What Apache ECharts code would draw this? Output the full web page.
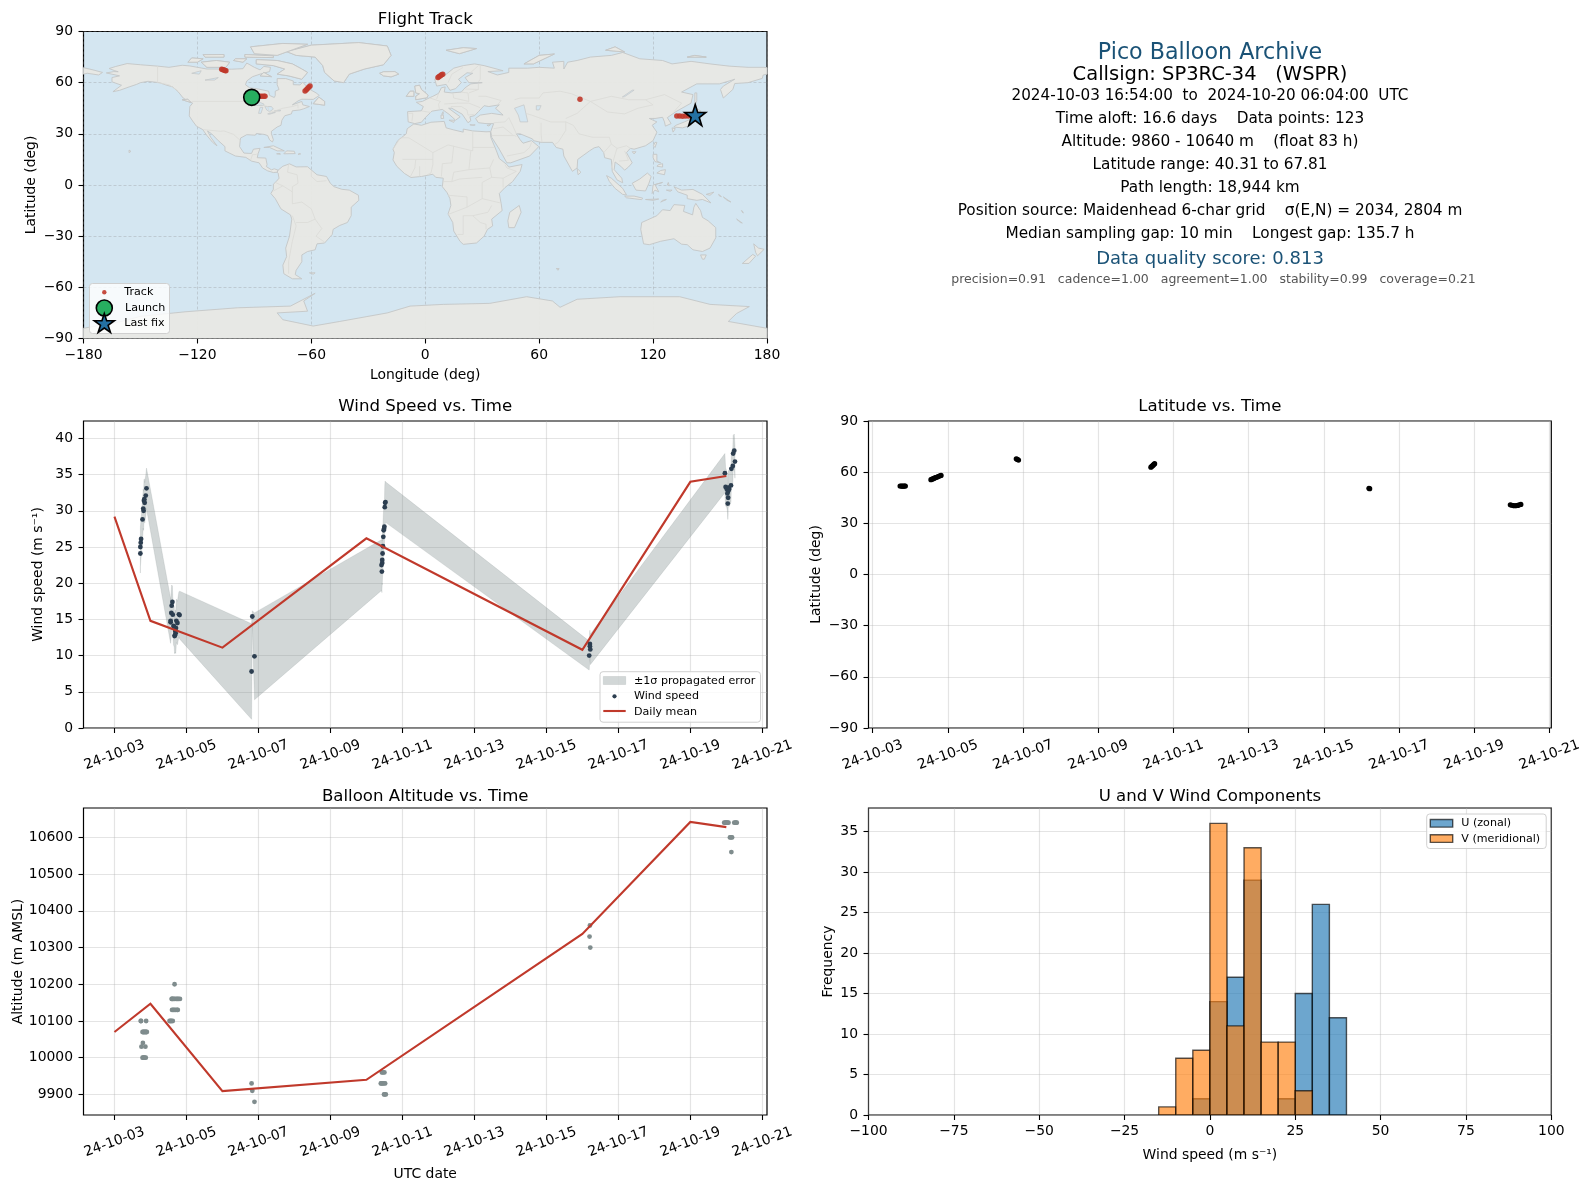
<!DOCTYPE html>
<html><head><meta charset="utf-8">
<style>html,body{margin:0;padding:0;background:#fff}#c{width:1589px;height:1189px}</style>
<script src="https://cdn.jsdelivr.net/npm/echarts@6/dist/echarts.min.js"></script>
</head><body><div id="c"></div>
<script>
const dayTicks=[3,5,7,9,11,13,15,17,19,21];
const dayTickLabels=['24-10-03','24-10-05','24-10-07','24-10-09','24-10-11','24-10-13','24-10-15','24-10-17','24-10-19','24-10-21'];
const windTicks=[0,5,10,15,20,25,30,35,40];
const altTicks=[9900,10000,10100,10200,10300,10400,10500,10600];
const freqTicks=[0,5,10,15,20,25,30,35];

const windDay=[3.72,3.72,3.73,3.74,3.78,3.80,3.81,3.82,3.83,3.84,3.87,3.89,
 4.56,4.56,4.58,4.59,4.61,4.62,4.64,4.66,4.67,4.68,4.69,4.70,4.71,4.72,4.75,4.79,4.81,
 6.81,6.83,6.89,
 10.42,10.43,10.44,10.44,10.45,10.46,10.47,10.48,10.49,10.50,10.51,10.52,10.53,
 16.19,16.21,16.21,16.22,
 19.96,19.98,20.01,20.03,20.04,20.05,20.05,20.06,20.08,20.13,20.14,20.18,20.19,20.22,20.24];
const windSpeed=[24.1,25.0,25.6,26.1,28.8,30.3,30.0,31.4,31.6,31.1,32.1,33.1,
 14.8,14.6,15.9,16.9,17.4,15.65,14.1,14.0,12.7,12.8,13.4,13.1,13.8,14.8,14.5,15.7,15.6,
 7.8,15.4,9.9,
 22.5,21.6,23.2,22.8,24.1,25.1,26.4,27.3,27.5,27.8,30.5,31.1,31.2,
 10.0,11.6,11.3,10.85,
 35.2,33.3,33.0,32.4,31.0,31.8,32.7,33.2,33.0,33.5,35.8,36.2,37.9,38.3,36.8];
const windSigma=[2.7,2.7,2.7,2.6,2.7,2.7,2.7,2.8,2.8,2.8,2.8,2.8,
 3.1,2.9,3.2,2.85,2.2,2.5,2.6,2.8,2.4,2.5,2.9,2.8,3.0,3.0,3.0,3.1,3.3,
 6.6,0.8,6.0,
 3.5,2.9,3.2,3.0,3.0,3.0,3.0,2.9,2.9,2.9,3.0,3.0,2.8,
 2.0,1.9,2.1,2.1,
 2.7,2.6,2.5,2.4,2.2,2.3,2.4,2.4,2.4,2.3,2.4,2.4,2.5,2.3,2.3];
const windMeanDay=[3,4,6,10,16,19,20];
const windMean=[29.2,14.8,11.1,26.2,10.8,34.0,34.8];

const altDay=[3.73,3.74,3.88,3.78,3.80,3.82,3.84,3.86,3.88,3.90,3.79,3.75,3.86,3.78,3.80,3.82,3.84,3.87,
 4.67,4.59,4.60,4.62,4.65,4.68,4.72,4.75,4.78,4.82,4.60,4.63,4.66,4.70,4.74,4.76,4.53,4.56,4.58,4.62,
 6.81,6.83,6.89,
 10.43,10.46,10.50,10.40,10.42,10.45,10.48,10.52,10.49,10.51,10.54,
 16.21,16.20,16.22,
 19.94,19.97,19.99,20.01,20.03,20.06,20.22,20.25,20.27,20.29,20.10,20.13,20.16,20.14];
const altValue=[10100,10100,10100,10070,10070,10070,10070,10070,10070,10070,10040,10030,10030,10000,10000,10000,10000,10000,
 10200,10160,10160,10160,10160,10160,10160,10160,10160,10160,10130,10130,10130,10130,10130,10130,10100,10100,10100,10100,
 9930,9910,9880,
 9960,9960,9960,9930,9930,9930,9930,9930,9900,9900,9900,
 10360,10330,10300,
 10640,10640,10640,10640,10640,10640,10640,10640,10640,10640,10600,10600,10600,10560];
const altMeanDay=[3,4,6,10,16,19,20];
const altMean=[10070,10147,9909,9940,10337,10642,10628];

const latDay=[3.73,3.76,3.79,3.82,3.85,3.87,
 4.55,4.58,4.61,4.64,4.67,4.70,4.73,4.76,4.79,4.82,
 6.82,6.85,6.88,
 10.40,10.42,10.44,10.46,10.48,10.50,
 16.20,16.22,
 19.96,20.00,20.04,20.08,20.12,20.16,20.20,20.24];
const latValue=[51.9,51.9,51.8,51.8,51.9,51.9,
 55.6,55.9,56.2,56.5,56.8,57.0,57.3,57.6,57.9,58.1,
 67.8,67.5,67.1,
 62.9,63.3,63.7,64.1,64.6,65.0,
 50.5,50.3,
 40.9,40.6,40.4,40.3,40.4,40.5,40.9,41.1];

const trackLon=[-91.4,-89,-87,-86,-85,-84.4,-63.3,-62.6,-62,-61.4,-60.7,-107.2,-106.6,-106,-105.4,-105,6.7,7.3,8,8.6,9.2,81.5,132.5,134,135.5,137,138.5,140,141,142.2];
const trackLat=[51.4,52,52,52,52,52,55.1,55.9,56.6,57.3,58,67.8,67.6,67.4,67.2,67,63.1,63.6,64.1,64.6,65,50.3,40.4,40.4,40.3,40.4,40.5,40.6,40.8,41];
const launchPoint=[-91.4,51.4];
const lastFixPoint=[142.2,41];

const histBinStart=[-15,-10,-5,0,5,10,15,20,25,30,35];
const histU=[0,0,2,14,17,29,0,2,15,26,12];
const histV=[1,7,8,36,11,33,9,9,3,0,0];

const infoLines=[
 ['Pico Balloon Archive',53,22.2,'#1a5276',1210],
 ['Callsign: SP3RC-34   (WSPR)',75.3,19.5,'#000',1210],
 ['2024-10-03 16:54:00  to  2024-10-20 06:04:00  UTC',96.3,15.2,'#000',1210],
 ['Time aloft: 16.6 days    Data points: 123',119.5,15.3,'#000',1210],
 ['Altitude: 9860 - 10640 m    (float 83 h)',142.5,15.3,'#000',1210],
 ['Latitude range: 40.31 to 67.81',165.5,15.3,'#000',1210],
 ['Path length: 18,944 km',188.2,15.3,'#000',1210],
 ['Position source: Maidenhead 6-char grid    σ(E,N) = 2034, 2804 m',211.5,15.3,'#000',1210],
 ['Median sampling gap: 10 min    Longest gap: 135.7 h',234.5,15.3,'#000',1210],
 ['Data quality score: 0.813',259,18,'#1a5276',1210],
 ['precision=0.91   cadence=1.00   agreement=1.00   stability=0.99   coverage=0.21',279.5,12.5,'#555',1213.5]
];

const mainlandPolygons=[
 [[-168,65.7],[-164,66.5],[-161.7,66.4],[-163.5,67],[-166.5,68.3],[-163,69.5],[-157,71.2],[-150,70.5],[-141,69.7],[-135,69],[-128,70.2],[-124,69.8],[-115,68],[-108,68],[-102,67.9],[-96,68.2],[-94,71.5],[-90,69],[-87,67.5],[-85,69.5],[-81.5,69],[-82,66.5],[-87,65],[-91,63.5],[-94,61],[-94.7,58.8],[-92.5,57],[-88,56.3],[-82.5,55],[-82,52.5],[-79.5,51.3],[-79,52.5],[-79,55],[-77,56],[-78,58.8],[-78,62.4],[-73.5,62.4],[-69.5,61],[-69.5,58.8],[-66,58.7],[-64.5,60.3],[-61.5,56.5],[-57.5,54],[-55.8,52.5],[-59,50.2],[-65,50.3],[-67,49.3],[-70,47],[-65,49],[-64.5,47],[-61,46],[-64,44.7],[-66,44],[-70,43.5],[-70.5,41.7],[-74,40.6],[-75.5,38],[-76,35],[-78,34],[-81,31.5],[-81,30],[-80,26.5],[-80.5,25.2],[-82,26.5],[-83,29],[-85,29.7],[-89,30.2],[-89.5,29.2],[-94,29.5],[-97.3,27.5],[-97.8,22.5],[-95.5,18.7],[-91.5,18.5],[-90.5,21],[-87,21.5],[-88,18.5],[-88.5,16],[-84,15.8],[-83.3,12],[-83.7,10.8],[-81,8.9],[-79.5,9.5],[-77.5,8.7],[-78,7.5],[-80,7.3],[-83,8.3],[-85.7,10],[-87.5,13],[-91.5,14],[-94.5,16.2],[-100,17],[-105.5,20],[-105.5,22.5],[-109,26],[-112.5,30],[-114.7,31.7],[-113,28],[-109.7,23],[-112,25],[-115,29],[-117.2,32.5],[-120.5,34.5],[-122.5,37.5],[-124.3,40.5],[-124,46],[-122.5,48],[-124.5,49],[-127.5,51],[-130,54.5],[-133,57.5],[-137,58.8],[-140,60],[-146,60.8],[-150,60],[-152,59],[-156,57.5],[-161,55.5],[-164.5,54.7],[-160,58.5],[-165,60.5],[-165,63],[-161,64]],
 [[-77.5,8.7],[-75,11],[-71.5,12.4],[-68,10.6],[-62,10.7],[-57,6],[-52,5],[-50,1],[-48,-1],[-44,-2.5],[-40,-3],[-35.2,-6],[-35,-9],[-39,-13],[-39,-18],[-41,-22],[-45,-23.7],[-48.5,-26],[-49,-29],[-53,-34],[-57,-34.5],[-58,-38],[-62,-39],[-65,-41],[-65,-45],[-68,-50],[-68.5,-52.5],[-65,-55],[-70,-55],[-74.5,-52],[-75,-47],[-73,-42],[-73.5,-37],[-71.5,-30],[-70.3,-20],[-71,-17.5],[-76,-14],[-79,-8],[-81.3,-5],[-80,-2.5],[-80,0.5],[-78.5,2],[-77,4],[-77.5,7],[-78,7.5]],
 [[-6,35.8],[-2,35],[3,36.8],[10,37.3],[11,33.5],[15,32.3],[20,31],[20,32.8],[25,31.7],[32,31.2],[34.3,31.3],[34.5,28],[36,24],[37.5,20],[39,15.5],[43,12],[44,10.5],[51,12],[50,8],[46,2],[42,-1.5],[39,-5],[40,-11],[40.5,-15],[35,-20],[35.5,-24],[32.8,-26],[31,-30],[27,-34],[20,-34.8],[18.3,-33],[15,-27],[14.5,-22],[12,-17],[13.5,-12],[13,-8],[11.5,-4.5],[9,-1],[9.5,4],[5.5,4.5],[4,6.3],[-2,5],[-7.5,4.4],[-11,6.8],[-15,11],[-17,14.7],[-16.3,19],[-17,21],[-14.5,26],[-10,30],[-9.5,33]],
 [[-9,37],[-9.3,43],[-2,43.5],[-1,46],[-4.7,48.5],[-1.5,49],[2,51],[4,52],[7,53.7],[8.5,57],[10.5,57.5],[10,54.5],[14,54],[19,54.5],[21,57],[24,59.3],[30,60],[23,60],[21,63],[25,65.5],[22,65.8],[17.5,62],[19,60],[16,56.5],[13,55.5],[11,59],[6,58],[5,62],[10,64],[15,68.5],[20,70],[26,71],[31,70],[41,67],[33,66.5],[38,64.5],[44,66],[44,68.5],[54,68.5],[60,69],[68,68.5],[67,72],[73,72.5],[73,68],[75,72],[80,73],[87,75],[98,76],[104,77.7],[113,74],[125,73],[130,71],[140,72.5],[150,71],[160,69.7],[170,69],[178,69],[180,68.8],[180,65],[178,64.5],[177.5,62.5],[170,60],[163,59.5],[162,56],[157,51],[155.5,56],[157,58],[163,62],[155,59.3],[143,59.3],[135,54.5],[141,53],[140,48],[132,43],[127.5,39.5],[129.5,36],[126.5,34.5],[126,37],[125,39.7],[121,39],[118,39],[122,37],[119.5,35],[122,31],[120,26],[116,23],[110,21],[108,21.5],[106,19],[109,13],[107,10.5],[105,8.7],[103,11],[100,13.5],[99.5,9],[103.5,4],[104,1.3],[101,3],[98.5,8],[98,15],[94.5,16],[94,19],[91.5,22.5],[89,21.8],[86.5,20],[80.3,15],[80,10],[77.5,8],[73,17],[72.5,21],[69,22],[67,25],[61,25],[57,26],[56.5,27],[50,30],[48,30],[50,26.5],[51.5,24.5],[56,26],[59.8,22.5],[55,17],[45,13],[43,13],[39,21],[35,28],[34.5,31.3],[36,36],[32,36],[28,36.5],[26.5,39],[29,41],[35,42],[41,41],[37,45],[39,47],[33.5,46],[31,46.5],[28,43],[26,40.7],[23.5,40],[24,37.7],[22.5,36.5],[19.5,41.5],[14,45],[12.3,45],[18.4,40],[16,38],[12.5,41.5],[9,44.3],[3.5,43.3],[0,39.5],[-2,36.8],[-5.5,36]],
 [[114,-22],[113.5,-26],[115,-34.5],[118,-35],[124,-33],[131,-31.5],[135,-34.7],[138,-35],[141,-38],[146,-39],[150,-37],[153,-31],[153,-25],[149,-21],[146,-19],[145,-15],[142.5,-10.8],[141.5,-13],[140.8,-17.5],[136,-15.5],[136.7,-12],[131,-11.5],[129,-15],[125,-14.5],[122,-18],[117,-20.5]],
 [[-180,-90],[-180,-84],[-160,-80],[-150,-77],[-126,-74.3],[-99,-72],[-71,-71],[-58,-63.5],[-64,-68],[-62,-74],[-78,-75],[-75,-79],[-59,-82.7],[-45,-80],[-35,-78],[-20,-75],[-8,-71],[9.5,-70],[34,-69.4],[53.4,-65.5],[67,-68],[71,-71.7],[80,-67],[102.6,-65.5],[134,-65.5],[150,-70],[170.7,-71.3],[164,-75.3],[159.6,-80],[180,-84],[180,-90]]
];
const islandPolygons=[
 [[-73,78.2],[-60,82],[-35,83.5],[-20,81.5],[-18,76],[-22,70.5],[-32,68],[-40,65],[-43,60],[-48,61],[-53,66],[-54,70],[-58,75],[-68,76]],
 [[-62,66],[-65,62],[-72,64],[-78,65],[-74,68],[-80,70],[-89,71],[-89,73.5],[-78,73],[-70,71],[-65,68]],
 [[-105,69],[-115,69],[-118,72],[-110,73],[-103,72]],
 [[-90,77],[-78,76],[-62,82.5],[-75,83],[-92,81]],
 [[-95,75],[-80,74.7],[-80,75.7],[-95,76.5]],
 [[-120,72],[-125,72],[-123,74.5],[-117,74]],
 [[-116,75],[-106,75],[-106,76.5],[-117,76.4]],
 [[-101,73],[-96,72],[-94,74],[-100,74]],
 [[-87,64],[-81,63.5],[-85,66]],
 [[-59,47.7],[-53,46.8],[-53,49],[-56,51.5]],
 [[-128,50],[-123.5,48.4],[-125,50.3]],
 [[-85,22],[-80,23],[-74.2,20],[-78,20],[-82,22]],
 [[-74.5,18.3],[-68.5,18.4],[-69,19.8],[-73,20]],
 [[-78.3,18.3],[-76.3,18],[-76.5,18.5]],
 [[-67,18],[-65.6,18.2],[-66,18.5]],
 [[-156,19],[-155,19.7],[-156,20.5]],
 [[-61,-51.5],[-58,-51.5],[-59,-52.3]],
 [[-180,68.8],[-175,67.5],[-170,66],[-172,64.5],[-178,65.5],[-180,65]],
 [[-5,50],[1,51.2],[1.5,52.7],[-2,56],[-3,58.5],[-5.5,58],[-5,54],[-3,53.5],[-5,52]],
 [[-10,52],[-6,52],[-6,55],[-8,55]],
 [[-24,65.5],[-22,64],[-18,63.4],[-14,65],[-16,66.5],[-22,66.4]],
 [[11,79],[20,80.5],[27,80],[18,77]],
 [[52,71],[57,71],[68,76.8],[60,76]],
 [[95,79],[105,78],[100,81]],
 [[138,75],[148,75],[142,76]],
 [[12.5,38],[15.5,38],[15,36.7]],
 [[8.3,39],[9.7,39],[9.5,41],[8.3,41]],
 [[8.7,41.5],[9.5,41.5],[9.4,43]],
 [[23.5,35.3],[26.3,35.2],[25,35]],
 [[32.5,35],[34.5,35.5],[33.5,34.6]],
 [[80,9.7],[82,7.5],[80.5,6]],
 [[130.9,34],[135.5,33.5],[140,35],[142,39.5],[141,41.3],[139.5,38.5],[136.5,37],[132,35]],
 [[130,33.5],[131.7,33],[130.5,31]],
 [[140,42],[143,42],[145.3,43.3],[141.7,45.4]],
 [[142,46],[143,49.5],[143,54],[142,54]],
 [[120.2,23],[121,22],[122,25],[121,25]],
 [[109,19.5],[111,19.5],[110,18.2]],
 [[120,18],[122,18],[122,14],[124,13],[121,13.7],[120,16]],
 [[122,7],[126,6],[126.5,9],[124,8.5]],
 [[122,11],[125,10.5],[125,12.5],[123,12]],
 [[109,1],[113,3.5],[117,7],[119,5],[117.8,1],[116,-3.5],[111,-3],[109.5,0]],
 [[95.5,5.5],[98,4],[104,-2],[106,-5.8],[104,-5.5],[100,-2],[97,2]],
 [[105,-6.5],[110,-6.5],[114.5,-7.7],[114,-8.6],[106,-7.5]],
 [[119.5,-5],[120,0],[125,1.5],[121,0.2],[123,-4],[121,-3]],
 [[128,1.5],[128.5,-0.5],[127.5,0]],
 [[127,-3],[130,-3],[129,-3.7]],
 [[116,-8.5],[123,-8.2],[120,-9]],
 [[124,-10],[127,-8.5],[125,-9]],
 [[131,-1],[135,-3],[141,-2.6],[146,-5.5],[150.5,-10.5],[146,-8.5],[143,-9],[138,-8],[138,-6],[133,-4]],
 [[148,-5.5],[152,-4.2],[150,-6]],
 [[154.5,-5.5],[156,-6.8],[155,-6.5]],
 [[157,-7],[161,-10],[159,-9]],
 [[166.5,-15],[167.5,-16.5],[167,-15.2]],
 [[145,-41],[148,-41],[147,-43.5],[146,-43.5]],
 [[173,-34.5],[175.5,-37],[178.5,-37.7],[175,-41.5],[174,-39.5]],
 [[172.5,-40.7],[174,-41.7],[170.5,-46],[167,-46]],
 [[49.5,-12],[50.5,-16],[47,-25],[44,-25],[43.5,-21],[44.5,-16]],
 [[164,-20],[167,-22.3],[166,-22]],
 [[69,-49],[70.5,-49],[70,-50]]
];
const waterPolygons=[
 [[47,45],[52,47],[53,42],[54,37],[50,37],[49,41]],
 [[58.5,46.5],[61,46.5],[60,44],[58.5,44]],
 [[-92,46.8],[-88,48.8],[-85,47.5],[-85,46.6],[-88,46.6]],
 [[-87.8,42],[-86.5,42],[-85.5,45.5],[-87,45.5]],
 [[-84.5,46],[-81,46],[-80,44.5],[-82,43],[-83.5,44]],
 [[-83,41.7],[-79,42.8],[-79,42.5],[-82,41.5]],
 [[-79.5,43.4],[-76.3,44],[-76.3,43.4]],
 [[-123,65.5],[-118,67],[-119,65]],
 [[-116,61.5],[-109,63],[-111,61.5]],
 [[103.8,51.6],[105,51.8],[110,55.6],[109,55.6]]
];
const borderLines=[
 [[-123,49],[-95,49],[-89,48],[-83,46],[-82,42.5],[-79,43.5],[-75,45],[-70,46],[-67,47],[-67,45]],
 [[-141,69.7],[-141,60],[-135,58.8],[-130,55]],
 [[-117,32.5],[-108,31.5],[-106,31.7],[-101,29.7],[-97.3,26]],
 [[-92,14.5],[-91,17.8],[-89,17.9],[-88.5,18.5]],
 [[-72,12],[-72.5,7.5],[-67.5,6],[-67,1]],
 [[-75,-0.5],[-70,-4],[-70,-11],[-65,-10],[-60,-14],[-58,-20]],
 [[-70,-18],[-68,-24],[-70,-33],[-72,-45],[-72,-52]],
 [[-68,-22],[-62,-22],[-58,-20],[-54.5,-25.5],[-57.5,-30],[-53,-33.5]],
 [[-60,8],[-60,5],[-57,2],[-52,2.5]],
 [[-80,-3.5],[-75,-0.5],[-79,1.5]],
 [[-67,1],[-70,-1],[-70,-4]],
 [[-8.7,27.7],[-13,27.7],[-17,21]],
 [[-8.7,27.7],[4,19],[12,23.5],[25,20],[25,31.5]],
 [[25,22],[36.5,22]],
 [[4,19],[4,12],[3,7]],
 [[15,23],[14,13],[9,12.5],[8.5,5]],
 [[24,20],[23,9],[15,7.5],[14,2],[9.5,2]],
 [[36,15],[34,10],[35,4.5],[41,4],[41,-1.5]],
 [[23,9],[34,10]],
 [[35,4.5],[30,1.5],[30,-8],[39.5,-10.5]],
 [[14,2],[18,3.5],[30,4.5]],
 [[12,-6],[22,-7],[22,-13],[12,-17.3]],
 [[22,-13],[30,-8]],
 [[25,-18],[33,-16],[35,-12]],
 [[20,-18],[20,-29],[17,-29]],
 [[20,-18],[25,-18],[29,-22],[32,-23],[32,-26]],
 [[-12,15],[-5,15],[-5.5,10],[-8,4.5]],
 [[-5,15],[4,15]],
 [[-3,5],[-3,11]],
 [[3,7],[1,6]],
 [[42,12],[43,10],[48,8],[41,4]],
 [[-9,42],[-6.5,42],[-7,37.3]],
 [[-1.8,43.4],[3,42.5]],
 [[2.5,51],[8,49],[7,47.5],[7.5,44]],
 [[7,53.5],[6,50.5]],
 [[14.5,54],[15,51],[23,49],[22.5,54],[19,54.4]],
 [[10,47.5],[17,48],[23,48],[29,45.3]],
 [[13.5,46],[19,46],[22,44],[22.5,41],[26,41.5]],
 [[12,60],[14,65],[20,69]],
 [[24,66],[28,70]],
 [[29,70],[29,62],[28,60.5]],
 [[28,52],[32,52],[40,49.5],[38,47]],
 [[28,56],[21,56.3]],
 [[23,54],[28,56],[28,59.4]],
 [[50,51],[60,51],[62,54],[71,55],[77,53.5],[87,49]],
 [[47,50],[50,51]],
 [[53,42],[56,41],[66,37],[74,37]],
 [[87,49],[96,42.8],[105,41.7],[112,45],[120,47],[116,50]],
 [[87,49],[98,52],[107,50],[116,50],[126,53],[135,48],[131,43]],
 [[74,39],[80,42],[87,49]],
 [[74,37],[78,35],[81,30],[88,28],[97,28],[98,24],[101,21.5],[106,23],[108,21.5]],
 [[74,37],[74,32],[70,25],[68,23.7]],
 [[44,39.5],[46,35],[48,30]],
 [[61,36.5],[61,30],[61.5,25]],
 [[44,39.5],[42,37],[36,36.5]],
 [[35,29],[47,29],[48,28.5]],
 [[36,33],[41,34],[46,29.5]],
 [[43,17],[52,19],[55,22],[56,25]],
 [[98,24],[94,19]],
 [[101,21.5],[100,18],[98,10]],
 [[102,14],[107,14.5],[105,20]],
 [[109.5,1.5],[115,3],[117.5,4.3]],
 [[141,-2.6],[141,-9]]
];

const FONT='"DejaVu Sans"';
const L=83.5,W=683.5,R2=868.5,W2=682.8;
const GRID='rgba(176,176,176,0.34)';
const grids=[
 {left:L,top:31.5,width:W,height:307},
 {left:L,top:421,width:W,height:307},
 {left:R2,top:421,width:W2,height:307},
 {left:L,top:808,width:W,height:307},
 {left:R2,top:808,width:W2,height:307}
].map((g,i)=>Object.assign(g,{show:true,borderColor:'#000',borderWidth:1.2,backgroundColor:i===0?'#d4e6f1':'transparent',containLabel:false}));

const plainLabel=v=>String(v).replace('-','\u2212');
function baseAxis(extra,isY){
 const a={gridIndex:extra.gridIndex,type:'value',min:extra.min,max:extra.max,
  axisLine:{show:false,onZero:false},
  axisTick:{show:true,length:5,inside:false,lineStyle:{color:'#000',width:1.1}},
  axisLabel:{color:'#000',fontFamily:FONT,fontSize:13.9,margin:isY?10.5:9.5,showMinLabel:true,showMaxLabel:true,hideOverlap:false,formatter:plainLabel},
  splitLine:{show:true,lineStyle:{color:GRID,width:1.2}},
  name:extra.name||'',nameLocation:'middle',nameGap:extra.nameGap||0,
  nameTextStyle:{color:'#000',fontFamily:FONT,fontSize:13.9}};
 if(extra.interval)a.interval=extra.interval;
 if(extra.ticks){a.axisTick.customValues=extra.ticks;a.axisLabel.customValues=extra.ticks;}
 if(extra.dash)a.splitLine.lineStyle={color:'rgba(140,140,140,0.3)',width:1,type:[3,2]};
 return a;
}
function timeAxis(gridIndex,min,max,name,nameGap){
 const a=baseAxis({gridIndex,min,max,ticks:dayTicks,name,nameGap},false);
 a.axisLabel.rotate=20;a.axisLabel.align='center';a.axisLabel.verticalAlign='middle';a.axisLabel.margin=27;
 a.axisLabel.formatter=v=>dayTickLabels[dayTicks.indexOf(v)];
 return a;
}
const xAxes=[
 baseAxis({gridIndex:0,min:-180,max:180,interval:60,name:'Longitude (deg)',nameGap:30,dash:true},false),
 timeAxis(1,2.14,21.13,'',0),
 timeAxis(2,2.89,21.05,'',0),
 timeAxis(3,2.14,21.13,'UTC date',52),
 baseAxis({gridIndex:4,min:-100,max:100,interval:25,name:'Wind speed (m s⁻¹)',nameGap:33},false)
];
const yAxes=[
 baseAxis({gridIndex:0,min:-90,max:90,interval:30,name:'Latitude (deg)',nameGap:45,dash:true},true),
 baseAxis({gridIndex:1,min:0,max:42.4,ticks:windTicks,name:'Wind speed (m s⁻¹)',nameGap:38},true),
 baseAxis({gridIndex:2,min:-90,max:90,interval:30,name:'Latitude (deg)',nameGap:45},true),
 baseAxis({gridIndex:3,min:9844,max:10680,ticks:altTicks,name:'Altitude (m AMSL)',nameGap:58},true),
 baseAxis({gridIndex:4,min:0,max:37.9,ticks:freqTicks,name:'Frequency',nameGap:33},true)
];

function shapeSeries(list,style,type,z){
 return {type:'custom',coordinateSystem:'cartesian2d',xAxisIndex:0,yAxisIndex:0,clip:true,silent:true,z,
  data:[[list[0][0][0],list[0][0][1]]],
  renderItem(params,api){
   return {type:'group',children:list.map(poly=>({type,shape:{points:poly.map(p=>api.coord(p))},style:Object.assign({},style)}))};
  }};
}
function bandSeries(){
 return {type:'custom',name:'±1σ propagated error',coordinateSystem:'cartesian2d',xAxisIndex:1,yAxisIndex:1,clip:true,silent:true,z:2,
  data:[[windDay[0],windSpeed[0]]],
  renderItem(params,api){
   const up=windDay.map((d,i)=>api.coord([d,windSpeed[i]+windSigma[i]]));
   const lo=windDay.map((d,i)=>api.coord([d,windSpeed[i]-windSigma[i]])).reverse();
   return {type:'polygon',shape:{points:up.concat(lo)},style:{fill:'rgba(127,140,141,0.35)',stroke:'rgba(127,140,141,0.3)',lineWidth:0.6}};
  }};
}
function histSeries(name,vals,color,z){
 return {type:'custom',name,coordinateSystem:'cartesian2d',xAxisIndex:4,yAxisIndex:4,clip:true,silent:true,z,
  data:histBinStart.map((s,i)=>[s,s+5,vals[i]]).filter(r=>r[2]>0),
  encode:{x:[0,1],y:2},
  renderItem(params,api){
   const a=api.coord([api.value(0),api.value(2)]),b=api.coord([api.value(1),0]);
   return {type:'rect',shape:{x:a[0],y:a[1],width:b[0]-a[0],height:b[1]-a[1]},
    style:{fill:color,stroke:'#000',lineWidth:1.4,opacity:0.65}};
  }};
}
function zip(a,b){return a.map((v,i)=>[v,b[i]]);}
function scat(name,xi,data,color,size,z,op){
 return {type:'scatter',name,xAxisIndex:xi,yAxisIndex:xi,data,symbol:'circle',symbolSize:size,silent:true,z,clip:true,
  itemStyle:{color,opacity:op==null?1:op,borderWidth:0}};
}
function meanLine(name,xi,data){
 return {type:'line',name,xAxisIndex:xi,yAxisIndex:xi,data,showSymbol:false,symbol:'none',silent:true,z:5,clip:true,
  lineStyle:{color:'#c0392b',width:2.1,join:'miter'},itemStyle:{color:'#c0392b'}};
}
const STAR='path://M50,2 L61.2,36 L97.5,36 L68.2,57.5 L79.4,92 L50,70.6 L20.6,92 L31.8,57.5 L2.5,36 L38.8,36 Z';
const LAND={fill:'rgba(232,232,228,0.95)',stroke:'#c4c6c6',lineWidth:0.9};
const series=[
 shapeSeries(mainlandPolygons,LAND,'polygon',1),
 shapeSeries(waterPolygons,{fill:'#d4e6f1',stroke:'#c4c6c6',lineWidth:0.7},'polygon',2),
 shapeSeries(borderLines,{fill:'none',stroke:'#dadad7',lineWidth:0.8},'polyline',2),
 shapeSeries(islandPolygons,LAND,'polygon',3),
 scat('Track',0,zip(trackLon,trackLat),'#c0392b',5.5,4,0.9),
 {type:'scatter',name:'Launch',xAxisIndex:0,yAxisIndex:0,data:[launchPoint],symbol:'circle',symbolSize:16,silent:true,z:6,
  itemStyle:{color:'#27ae60',opacity:1,borderColor:'#000',borderWidth:1.6}},
 {type:'scatter',name:'Last fix',xAxisIndex:0,yAxisIndex:0,data:[lastFixPoint],symbol:STAR,symbolSize:21,silent:true,z:6,
  itemStyle:{color:'#2471a3',opacity:1,borderColor:'#000',borderWidth:1.6}},
 bandSeries(),
 scat('Wind speed',1,zip(windDay,windSpeed),'#2c3e50',4.8,3),
 meanLine('Daily mean',1,zip(windMeanDay,windMean)),
 scat('Latitude',2,zip(latDay,latValue),'#000',5.2,3),
 scat('Altitude',3,zip(altDay,altValue),'#7f8c8d',4.8,3),
 meanLine('Daily mean altitude',3,zip(altMeanDay,altMean)),
 histSeries('U (zonal)',histU,'#1f77b4',3),
 histSeries('V (meridional)',histV,'#ff7f0e',4)
];

const titles=[['Flight Track',L+W/2,11.5],['Wind Speed vs. Time',L+W/2,398],['Latitude vs. Time',R2+W2/2,398],['Balloon Altitude vs. Time',L+W/2,788],['U and V Wind Components',R2+W2/2,788]]
 .map(t=>({text:t[0],left:t[1],top:t[2],textAlign:'center',padding:0,textStyle:{color:'#000',fontFamily:FONT,fontSize:16.6,fontWeight:'normal'}}));

const gz=100;
function legendBox(x,y,w,h){return {type:'rect',z:gz,shape:{x,y,width:w,height:h,r:3},style:{fill:'rgba(255,255,255,0.8)',stroke:'#d0d0d0',lineWidth:1}};}
function legendText(x,y,t){return {type:'text',z:gz+1,x,y,style:{text:t,fill:'#000',font:'11.1px '+FONT,textAlign:'left',textVerticalAlign:'middle',verticalAlign:'middle'}};}
function starPts(cx,cy,r){const p=[];for(let i=0;i<10;i++){const a=-Math.PI/2+i*Math.PI/5,q=i%2?r*0.382:r;p.push([cx+q*Math.cos(a),cy+q*Math.sin(a)]);}return p;}
const graphicEls=[
 legendBox(89.5,283.5,80,50),
 {type:'circle',z:gz+1,shape:{cx:104.3,cy:292.3,r:2.2},style:{fill:'#c0392b',opacity:.9}},
 {type:'circle',z:gz+1,shape:{cx:104.3,cy:308,r:8},style:{fill:'#27ae60',stroke:'#000',lineWidth:1.6}},
 {type:'polygon',z:gz+2,shape:{points:starPts(104.3,324,10.5)},style:{fill:'#2471a3',stroke:'#000',lineWidth:1.6}},
 legendText(124.3,292.3,'Track'),legendText(125,308.3,'Launch'),legendText(124.3,323.3,'Last fix'),
 legendBox(600,671.7,160.5,50.5),
 {type:'rect',z:gz+1,shape:{x:603.3,y:676.5,width:22.4,height:8},style:{fill:'rgba(127,140,141,0.35)',stroke:'rgba(127,140,141,0.3)',lineWidth:.6}},
 {type:'circle',z:gz+1,shape:{cx:614.5,cy:696.3,r:2.1},style:{fill:'#2c3e50'}},
 {type:'line',z:gz+1,shape:{x1:603.3,y1:711,x2:625.7,y2:711},style:{stroke:'#c0392b',lineWidth:2.1}},
 legendText(634,681,'±1σ propagated error'),legendText(634,696.3,'Wind speed'),legendText(634,712,'Daily mean'),
 legendBox(1426.7,814,119.5,34.5),
 {type:'rect',z:gz+1,shape:{x:1430.3,y:819.5,width:22.4,height:7.6},style:{fill:'#1f77b4',stroke:'#000',lineWidth:1.4,opacity:.65}},
 {type:'rect',z:gz+1,shape:{x:1430.3,y:834.8,width:22.4,height:7.6},style:{fill:'#ff7f0e',stroke:'#000',lineWidth:1.4,opacity:.65}},
 legendText(1461.3,823.5,'U (zonal)'),legendText(1461.3,838.8,'V (meridional)')
];
infoLines.forEach(l=>graphicEls.push({type:'text',z:gz,x:l[4],y:l[1],style:{text:l[0],fill:l[3],font:l[2]+'px '+FONT,textAlign:'center',textVerticalAlign:'middle',verticalAlign:'middle'}}));

const chart=echarts.init(document.getElementById('c'),null,{renderer:'canvas',width:1589,height:1189});
chart.setOption({animation:false,backgroundColor:'#fff',textStyle:{fontFamily:FONT},title:titles,grid:grids,xAxis:xAxes,yAxis:yAxes,series,graphic:{elements:graphicEls}});
const northIslands=islandPolygons.filter(p=>p[0][1]>46&&p[0][0]>-130);
const northEls=northIslands.map(poly=>({type:'polygon',z:3.5,silent:true,
 shape:{points:poly.map(c=>chart.convertToPixel({xAxisIndex:0,yAxisIndex:0},c))},
 style:Object.assign({},LAND)}));
chart.setOption({graphic:{elements:graphicEls.concat(northEls)}});
</script></body></html>
